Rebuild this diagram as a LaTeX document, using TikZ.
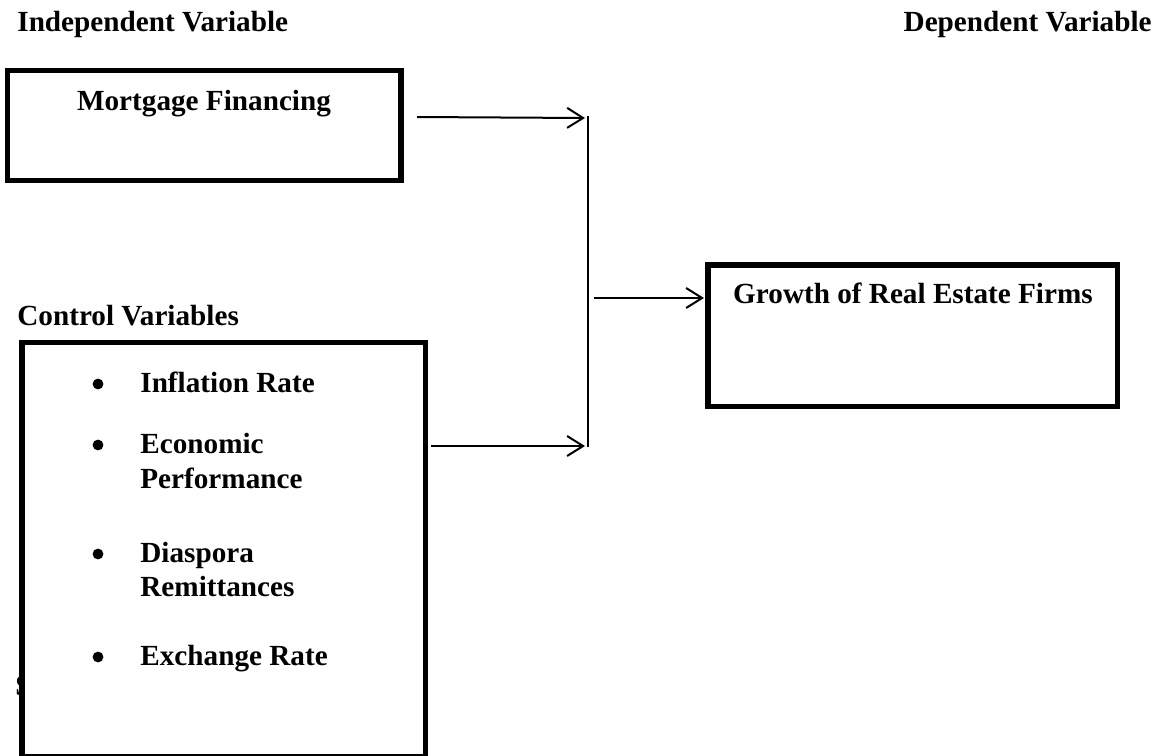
\documentclass[tikz,border=0pt]{standalone}
\usepackage{fontspec}
\setmainfont{Liberation Serif}
\usetikzlibrary{arrows.meta}
\tikzset{
  box/.style={draw, line width=2.6pt, rectangle, inner sep=0pt, fill=white},
  lbl/.style={font=\fontsize{14.6}{17.5}\selectfont\bfseries, inner sep=0pt},
  bul/.style={circle, fill=black, inner sep=0pt, minimum size=5.4pt},
  arr/.style={line width=1pt, -{Straight Barb[length=8pt,width=10pt,line width=1pt]}},
  joinline/.style={line width=1pt}
}
\begin{document}
\begin{tikzpicture}[x=0.5pt,y=-0.5pt]
\useasboundingbox (0,0) rectangle (1166,755);
% titles
\node[lbl, anchor=base west] (indep) at (17,32) {Independent Variable};
\node[lbl, anchor=base east] (dep) at (1152,32) {Dependent Variable};
\node[lbl, anchor=base west] (ctrl) at (17,325) {Control Variables};
% stray S behind control box
\node[lbl, anchor=base west] (stray) at (15,695) {S};
% boxes
\node[box, minimum width=196.75pt, minimum height=55pt] (mort) at (204.25,125.5) {};
\node[box, minimum width=204.75pt, minimum height=70.75pt] (growth) at (912.75,335.75) {};
\node[box, minimum width=201.75pt, minimum height=207.25pt] (control) at (223.75,549.75) {};
% box texts
\node[lbl, anchor=base] (morttxt) at (204,110) {Mortgage Financing};
\node[lbl, anchor=base] (growthtxt) at (913,303) {Growth of Real Estate Firms};
% bullet list
\node[bul] (b1) at (98,384) {};
\node[lbl, anchor=base west] (t1) at (140,392) {Inflation Rate};
\node[bul] (b2) at (98,445) {};
\node[lbl, anchor=base west] (t2) at (140,453) {Economic};
\node[lbl, anchor=base west] (t2b) at (140,488) {Performance};
\node[bul] (b3) at (98,554) {};
\node[lbl, anchor=base west] (t3) at (140,562) {Diaspora};
\node[lbl, anchor=base west] (t3b) at (140,596) {Remittances};
\node[bul] (b4) at (98,657) {};
\node[lbl, anchor=base west] (t4) at (140,665) {Exchange Rate};
% connectors
\coordinate (s1) at (417,117);
\coordinate (e1) at (585,118);
\coordinate (s2) at (431,446);
\coordinate (e2) at (585,446);
\coordinate (vtop) at (588,116);
\coordinate (vbot) at (588,447);
\coordinate (s3) at (594,298);
\coordinate (e3) at (704,298);
\draw[arr] (s1) -- (e1);
\draw[arr] (s2) -- (e2);
\draw[joinline] (vtop) -- (vbot);
\draw[arr] (s3) -- (e3);
\end{tikzpicture}
\end{document}
